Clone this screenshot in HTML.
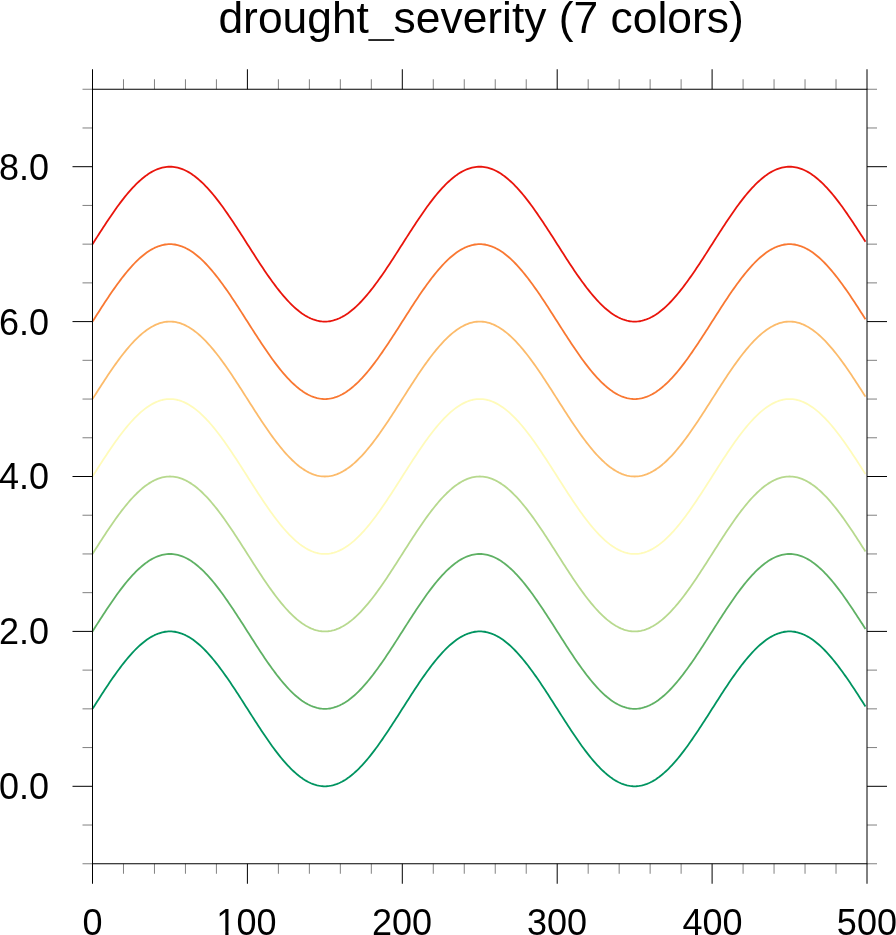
<!DOCTYPE html>
<html lang="en">
<head>
<meta charset="utf-8">
<title>drought_severity (7 colors)</title>
<style>
html,body{margin:0;padding:0;background:#fff;}
body{width:896px;height:935px;overflow:hidden;}
svg{display:block;will-change:transform;}
text{font-family:"Liberation Sans",Arial,Helvetica,sans-serif;fill:#000;}
</style>
</head>
<body>
<svg width="896" height="935" viewBox="0 0 896 935">
<rect x="0" y="0" width="896" height="935" fill="#ffffff"/>
<text x="481.1" y="32.8" font-size="44.38" text-anchor="middle">drought_severity (7 colors)</text>
<g fill="none" stroke-width="1.8" stroke-linejoin="round" stroke-linecap="butt">
<polyline stroke="#009460" points="92.50,708.85 94.05,706.42 95.60,703.99 97.15,701.56 98.70,699.14 100.25,696.73 101.79,694.34 103.34,691.95 104.89,689.59 106.44,687.24 107.99,684.92 109.54,682.61 111.09,680.34 112.64,678.09 114.19,675.87 115.73,673.69 117.28,671.54 118.83,669.42 120.38,667.35 121.93,665.32 123.48,663.33 125.03,661.38 126.58,659.48 128.13,657.63 129.68,655.83 131.22,654.08 132.77,652.39 134.32,650.75 135.87,649.17 137.42,647.65 138.97,646.19 140.52,644.79 142.07,643.46 143.62,642.19 145.17,640.98 146.72,639.84 148.26,638.77 149.81,637.77 151.36,636.84 152.91,635.98 154.46,635.19 156.01,634.48 157.56,633.83 159.11,633.27 160.66,632.77 162.20,632.35 163.75,632.01 165.30,631.74 166.85,631.55 168.40,631.44 169.95,631.40 171.50,631.44 173.05,631.55 174.60,631.74 176.15,632.01 177.69,632.35 179.24,632.77 180.79,633.27 182.34,633.83 183.89,634.48 185.44,635.19 186.99,635.98 188.54,636.84 190.09,637.77 191.64,638.77 193.19,639.84 194.73,640.98 196.28,642.19 197.83,643.46 199.38,644.79 200.93,646.19 202.48,647.65 204.03,649.17 205.58,650.75 207.13,652.39 208.68,654.08 210.22,655.83 211.77,657.63 213.32,659.48 214.87,661.38 216.42,663.33 217.97,665.32 219.52,667.35 221.07,669.42 222.62,671.54 224.17,673.69 225.71,675.87 227.26,678.09 228.81,680.34 230.36,682.61 231.91,684.92 233.46,687.24 235.01,689.59 236.56,691.95 238.11,694.34 239.66,696.73 241.20,699.14 242.75,701.56 244.30,703.99 245.85,706.42 247.40,708.85 248.95,711.28 250.50,713.71 252.05,716.14 253.60,718.56 255.14,720.97 256.69,723.36 258.24,725.75 259.79,728.11 261.34,730.46 262.89,732.78 264.44,735.09 265.99,737.36 267.54,739.61 269.09,741.83 270.63,744.01 272.18,746.16 273.73,748.28 275.28,750.35 276.83,752.38 278.38,754.37 279.93,756.32 281.48,758.22 283.03,760.07 284.58,761.87 286.12,763.62 287.67,765.31 289.22,766.95 290.77,768.53 292.32,770.05 293.87,771.51 295.42,772.91 296.97,774.24 298.52,775.51 300.07,776.72 301.62,777.86 303.16,778.93 304.71,779.93 306.26,780.86 307.81,781.72 309.36,782.51 310.91,783.22 312.46,783.87 314.01,784.43 315.56,784.93 317.11,785.35 318.65,785.69 320.20,785.96 321.75,786.15 323.30,786.26 324.85,786.30 326.40,786.26 327.95,786.15 329.50,785.96 331.05,785.69 332.60,785.35 334.14,784.93 335.69,784.43 337.24,783.87 338.79,783.22 340.34,782.51 341.89,781.72 343.44,780.86 344.99,779.93 346.54,778.93 348.09,777.86 349.63,776.72 351.18,775.51 352.73,774.24 354.28,772.91 355.83,771.51 357.38,770.05 358.93,768.53 360.48,766.95 362.03,765.31 363.57,763.62 365.12,761.87 366.67,760.07 368.22,758.22 369.77,756.32 371.32,754.37 372.87,752.38 374.42,750.35 375.97,748.28 377.52,746.16 379.06,744.01 380.61,741.83 382.16,739.61 383.71,737.36 385.26,735.09 386.81,732.78 388.36,730.46 389.91,728.11 391.46,725.75 393.01,723.36 394.56,720.97 396.10,718.56 397.65,716.14 399.20,713.71 400.75,711.28 402.30,708.85 403.85,706.42 405.40,703.99 406.95,701.56 408.50,699.14 410.04,696.73 411.59,694.34 413.14,691.95 414.69,689.59 416.24,687.24 417.79,684.92 419.34,682.61 420.89,680.34 422.44,678.09 423.99,675.87 425.53,673.69 427.08,671.54 428.63,669.42 430.18,667.35 431.73,665.32 433.28,663.33 434.83,661.38 436.38,659.48 437.93,657.63 439.48,655.83 441.03,654.08 442.57,652.39 444.12,650.75 445.67,649.17 447.22,647.65 448.77,646.19 450.32,644.79 451.87,643.46 453.42,642.19 454.97,640.98 456.51,639.84 458.06,638.77 459.61,637.77 461.16,636.84 462.71,635.98 464.26,635.19 465.81,634.48 467.36,633.83 468.91,633.27 470.46,632.77 472.00,632.35 473.55,632.01 475.10,631.74 476.65,631.55 478.20,631.44 479.75,631.40 481.30,631.44 482.85,631.55 484.40,631.74 485.95,632.01 487.50,632.35 489.04,632.77 490.59,633.27 492.14,633.83 493.69,634.48 495.24,635.19 496.79,635.98 498.34,636.84 499.89,637.77 501.44,638.77 502.99,639.84 504.53,640.98 506.08,642.19 507.63,643.46 509.18,644.79 510.73,646.19 512.28,647.65 513.83,649.17 515.38,650.75 516.93,652.39 518.48,654.08 520.02,655.83 521.57,657.63 523.12,659.48 524.67,661.38 526.22,663.33 527.77,665.32 529.32,667.35 530.87,669.42 532.42,671.54 533.96,673.69 535.51,675.87 537.06,678.09 538.61,680.34 540.16,682.61 541.71,684.92 543.26,687.24 544.81,689.59 546.36,691.95 547.91,694.34 549.45,696.73 551.00,699.14 552.55,701.56 554.10,703.99 555.65,706.42 557.20,708.85 558.75,711.28 560.30,713.71 561.85,716.14 563.40,718.56 564.94,720.97 566.49,723.36 568.04,725.75 569.59,728.11 571.14,730.46 572.69,732.78 574.24,735.09 575.79,737.36 577.34,739.61 578.89,741.83 580.43,744.01 581.98,746.16 583.53,748.28 585.08,750.35 586.63,752.38 588.18,754.37 589.73,756.32 591.28,758.22 592.83,760.07 594.38,761.87 595.92,763.62 597.47,765.31 599.02,766.95 600.57,768.53 602.12,770.05 603.67,771.51 605.22,772.91 606.77,774.24 608.32,775.51 609.87,776.72 611.42,777.86 612.96,778.93 614.51,779.93 616.06,780.86 617.61,781.72 619.16,782.51 620.71,783.22 622.26,783.87 623.81,784.43 625.36,784.93 626.90,785.35 628.45,785.69 630.00,785.96 631.55,786.15 633.10,786.26 634.65,786.30 636.20,786.26 637.75,786.15 639.30,785.96 640.85,785.69 642.39,785.35 643.94,784.93 645.49,784.43 647.04,783.87 648.59,783.22 650.14,782.51 651.69,781.72 653.24,780.86 654.79,779.93 656.34,778.93 657.88,777.86 659.43,776.72 660.98,775.51 662.53,774.24 664.08,772.91 665.63,771.51 667.18,770.05 668.73,768.53 670.28,766.95 671.83,765.31 673.38,763.62 674.92,761.87 676.47,760.07 678.02,758.22 679.57,756.32 681.12,754.37 682.67,752.38 684.22,750.35 685.77,748.28 687.32,746.16 688.87,744.01 690.41,741.83 691.96,739.61 693.51,737.36 695.06,735.09 696.61,732.78 698.16,730.46 699.71,728.11 701.26,725.75 702.81,723.36 704.36,720.97 705.90,718.56 707.45,716.14 709.00,713.71 710.55,711.28 712.10,708.85 713.65,706.42 715.20,703.99 716.75,701.56 718.30,699.14 719.85,696.73 721.39,694.34 722.94,691.95 724.49,689.59 726.04,687.24 727.59,684.92 729.14,682.61 730.69,680.34 732.24,678.09 733.79,675.87 735.33,673.69 736.88,671.54 738.43,669.42 739.98,667.35 741.53,665.32 743.08,663.33 744.63,661.38 746.18,659.48 747.73,657.63 749.28,655.83 750.82,654.08 752.37,652.39 753.92,650.75 755.47,649.17 757.02,647.65 758.57,646.19 760.12,644.79 761.67,643.46 763.22,642.19 764.77,640.98 766.31,639.84 767.86,638.77 769.41,637.77 770.96,636.84 772.51,635.98 774.06,635.19 775.61,634.48 777.16,633.83 778.71,633.27 780.26,632.77 781.81,632.35 783.35,632.01 784.90,631.74 786.45,631.55 788.00,631.44 789.55,631.40 791.10,631.44 792.65,631.55 794.20,631.74 795.75,632.01 797.30,632.35 798.84,632.77 800.39,633.27 801.94,633.83 803.49,634.48 805.04,635.19 806.59,635.98 808.14,636.84 809.69,637.77 811.24,638.77 812.79,639.84 814.33,640.98 815.88,642.19 817.43,643.46 818.98,644.79 820.53,646.19 822.08,647.65 823.63,649.17 825.18,650.75 826.73,652.39 828.27,654.08 829.82,655.83 831.37,657.63 832.92,659.48 834.47,661.38 836.02,663.33 837.57,665.32 839.12,667.35 840.67,669.42 842.22,671.54 843.76,673.69 845.31,675.87 846.86,678.09 848.41,680.34 849.96,682.61 851.51,684.92 853.06,687.24 854.61,689.59 856.16,691.95 857.71,694.34 859.25,696.73 860.80,699.14 862.35,701.56 863.90,703.99 865.45,706.42"/>
<polyline stroke="#5fb164" points="92.50,631.40 94.05,628.97 95.60,626.54 97.15,624.11 98.70,621.69 100.25,619.28 101.79,616.89 103.34,614.50 104.89,612.14 106.44,609.79 107.99,607.47 109.54,605.16 111.09,602.89 112.64,600.64 114.19,598.42 115.73,596.24 117.28,594.09 118.83,591.97 120.38,589.90 121.93,587.87 123.48,585.88 125.03,583.93 126.58,582.03 128.13,580.18 129.68,578.38 131.22,576.63 132.77,574.94 134.32,573.30 135.87,571.72 137.42,570.20 138.97,568.74 140.52,567.34 142.07,566.01 143.62,564.74 145.17,563.53 146.72,562.39 148.26,561.32 149.81,560.32 151.36,559.39 152.91,558.53 154.46,557.74 156.01,557.03 157.56,556.38 159.11,555.82 160.66,555.32 162.20,554.90 163.75,554.56 165.30,554.29 166.85,554.10 168.40,553.99 169.95,553.95 171.50,553.99 173.05,554.10 174.60,554.29 176.15,554.56 177.69,554.90 179.24,555.32 180.79,555.82 182.34,556.38 183.89,557.03 185.44,557.74 186.99,558.53 188.54,559.39 190.09,560.32 191.64,561.32 193.19,562.39 194.73,563.53 196.28,564.74 197.83,566.01 199.38,567.34 200.93,568.74 202.48,570.20 204.03,571.72 205.58,573.30 207.13,574.94 208.68,576.63 210.22,578.38 211.77,580.18 213.32,582.03 214.87,583.93 216.42,585.88 217.97,587.87 219.52,589.90 221.07,591.97 222.62,594.09 224.17,596.24 225.71,598.42 227.26,600.64 228.81,602.89 230.36,605.16 231.91,607.47 233.46,609.79 235.01,612.14 236.56,614.50 238.11,616.89 239.66,619.28 241.20,621.69 242.75,624.11 244.30,626.54 245.85,628.97 247.40,631.40 248.95,633.83 250.50,636.26 252.05,638.69 253.60,641.11 255.14,643.52 256.69,645.91 258.24,648.30 259.79,650.66 261.34,653.01 262.89,655.33 264.44,657.64 265.99,659.91 267.54,662.16 269.09,664.38 270.63,666.56 272.18,668.71 273.73,670.83 275.28,672.90 276.83,674.93 278.38,676.92 279.93,678.87 281.48,680.77 283.03,682.62 284.58,684.42 286.12,686.17 287.67,687.86 289.22,689.50 290.77,691.08 292.32,692.60 293.87,694.06 295.42,695.46 296.97,696.79 298.52,698.06 300.07,699.27 301.62,700.41 303.16,701.48 304.71,702.48 306.26,703.41 307.81,704.27 309.36,705.06 310.91,705.77 312.46,706.42 314.01,706.98 315.56,707.48 317.11,707.90 318.65,708.24 320.20,708.51 321.75,708.70 323.30,708.81 324.85,708.85 326.40,708.81 327.95,708.70 329.50,708.51 331.05,708.24 332.60,707.90 334.14,707.48 335.69,706.98 337.24,706.42 338.79,705.77 340.34,705.06 341.89,704.27 343.44,703.41 344.99,702.48 346.54,701.48 348.09,700.41 349.63,699.27 351.18,698.06 352.73,696.79 354.28,695.46 355.83,694.06 357.38,692.60 358.93,691.08 360.48,689.50 362.03,687.86 363.57,686.17 365.12,684.42 366.67,682.62 368.22,680.77 369.77,678.87 371.32,676.92 372.87,674.93 374.42,672.90 375.97,670.83 377.52,668.71 379.06,666.56 380.61,664.38 382.16,662.16 383.71,659.91 385.26,657.64 386.81,655.33 388.36,653.01 389.91,650.66 391.46,648.30 393.01,645.91 394.56,643.52 396.10,641.11 397.65,638.69 399.20,636.26 400.75,633.83 402.30,631.40 403.85,628.97 405.40,626.54 406.95,624.11 408.50,621.69 410.04,619.28 411.59,616.89 413.14,614.50 414.69,612.14 416.24,609.79 417.79,607.47 419.34,605.16 420.89,602.89 422.44,600.64 423.99,598.42 425.53,596.24 427.08,594.09 428.63,591.97 430.18,589.90 431.73,587.87 433.28,585.88 434.83,583.93 436.38,582.03 437.93,580.18 439.48,578.38 441.03,576.63 442.57,574.94 444.12,573.30 445.67,571.72 447.22,570.20 448.77,568.74 450.32,567.34 451.87,566.01 453.42,564.74 454.97,563.53 456.51,562.39 458.06,561.32 459.61,560.32 461.16,559.39 462.71,558.53 464.26,557.74 465.81,557.03 467.36,556.38 468.91,555.82 470.46,555.32 472.00,554.90 473.55,554.56 475.10,554.29 476.65,554.10 478.20,553.99 479.75,553.95 481.30,553.99 482.85,554.10 484.40,554.29 485.95,554.56 487.50,554.90 489.04,555.32 490.59,555.82 492.14,556.38 493.69,557.03 495.24,557.74 496.79,558.53 498.34,559.39 499.89,560.32 501.44,561.32 502.99,562.39 504.53,563.53 506.08,564.74 507.63,566.01 509.18,567.34 510.73,568.74 512.28,570.20 513.83,571.72 515.38,573.30 516.93,574.94 518.48,576.63 520.02,578.38 521.57,580.18 523.12,582.03 524.67,583.93 526.22,585.88 527.77,587.87 529.32,589.90 530.87,591.97 532.42,594.09 533.96,596.24 535.51,598.42 537.06,600.64 538.61,602.89 540.16,605.16 541.71,607.47 543.26,609.79 544.81,612.14 546.36,614.50 547.91,616.89 549.45,619.28 551.00,621.69 552.55,624.11 554.10,626.54 555.65,628.97 557.20,631.40 558.75,633.83 560.30,636.26 561.85,638.69 563.40,641.11 564.94,643.52 566.49,645.91 568.04,648.30 569.59,650.66 571.14,653.01 572.69,655.33 574.24,657.64 575.79,659.91 577.34,662.16 578.89,664.38 580.43,666.56 581.98,668.71 583.53,670.83 585.08,672.90 586.63,674.93 588.18,676.92 589.73,678.87 591.28,680.77 592.83,682.62 594.38,684.42 595.92,686.17 597.47,687.86 599.02,689.50 600.57,691.08 602.12,692.60 603.67,694.06 605.22,695.46 606.77,696.79 608.32,698.06 609.87,699.27 611.42,700.41 612.96,701.48 614.51,702.48 616.06,703.41 617.61,704.27 619.16,705.06 620.71,705.77 622.26,706.42 623.81,706.98 625.36,707.48 626.90,707.90 628.45,708.24 630.00,708.51 631.55,708.70 633.10,708.81 634.65,708.85 636.20,708.81 637.75,708.70 639.30,708.51 640.85,708.24 642.39,707.90 643.94,707.48 645.49,706.98 647.04,706.42 648.59,705.77 650.14,705.06 651.69,704.27 653.24,703.41 654.79,702.48 656.34,701.48 657.88,700.41 659.43,699.27 660.98,698.06 662.53,696.79 664.08,695.46 665.63,694.06 667.18,692.60 668.73,691.08 670.28,689.50 671.83,687.86 673.38,686.17 674.92,684.42 676.47,682.62 678.02,680.77 679.57,678.87 681.12,676.92 682.67,674.93 684.22,672.90 685.77,670.83 687.32,668.71 688.87,666.56 690.41,664.38 691.96,662.16 693.51,659.91 695.06,657.64 696.61,655.33 698.16,653.01 699.71,650.66 701.26,648.30 702.81,645.91 704.36,643.52 705.90,641.11 707.45,638.69 709.00,636.26 710.55,633.83 712.10,631.40 713.65,628.97 715.20,626.54 716.75,624.11 718.30,621.69 719.85,619.28 721.39,616.89 722.94,614.50 724.49,612.14 726.04,609.79 727.59,607.47 729.14,605.16 730.69,602.89 732.24,600.64 733.79,598.42 735.33,596.24 736.88,594.09 738.43,591.97 739.98,589.90 741.53,587.87 743.08,585.88 744.63,583.93 746.18,582.03 747.73,580.18 749.28,578.38 750.82,576.63 752.37,574.94 753.92,573.30 755.47,571.72 757.02,570.20 758.57,568.74 760.12,567.34 761.67,566.01 763.22,564.74 764.77,563.53 766.31,562.39 767.86,561.32 769.41,560.32 770.96,559.39 772.51,558.53 774.06,557.74 775.61,557.03 777.16,556.38 778.71,555.82 780.26,555.32 781.81,554.90 783.35,554.56 784.90,554.29 786.45,554.10 788.00,553.99 789.55,553.95 791.10,553.99 792.65,554.10 794.20,554.29 795.75,554.56 797.30,554.90 798.84,555.32 800.39,555.82 801.94,556.38 803.49,557.03 805.04,557.74 806.59,558.53 808.14,559.39 809.69,560.32 811.24,561.32 812.79,562.39 814.33,563.53 815.88,564.74 817.43,566.01 818.98,567.34 820.53,568.74 822.08,570.20 823.63,571.72 825.18,573.30 826.73,574.94 828.27,576.63 829.82,578.38 831.37,580.18 832.92,582.03 834.47,583.93 836.02,585.88 837.57,587.87 839.12,589.90 840.67,591.97 842.22,594.09 843.76,596.24 845.31,598.42 846.86,600.64 848.41,602.89 849.96,605.16 851.51,607.47 853.06,609.79 854.61,612.14 856.16,614.50 857.71,616.89 859.25,619.28 860.80,621.69 862.35,624.11 863.90,626.54 865.45,628.97"/>
<polyline stroke="#b7d98e" points="92.50,553.95 94.05,551.52 95.60,549.09 97.15,546.66 98.70,544.24 100.25,541.83 101.79,539.44 103.34,537.05 104.89,534.69 106.44,532.34 107.99,530.02 109.54,527.71 111.09,525.44 112.64,523.19 114.19,520.97 115.73,518.79 117.28,516.64 118.83,514.52 120.38,512.45 121.93,510.42 123.48,508.43 125.03,506.48 126.58,504.58 128.13,502.73 129.68,500.93 131.22,499.18 132.77,497.49 134.32,495.85 135.87,494.27 137.42,492.75 138.97,491.29 140.52,489.89 142.07,488.56 143.62,487.29 145.17,486.08 146.72,484.94 148.26,483.87 149.81,482.87 151.36,481.94 152.91,481.08 154.46,480.29 156.01,479.58 157.56,478.93 159.11,478.37 160.66,477.87 162.20,477.45 163.75,477.11 165.30,476.84 166.85,476.65 168.40,476.54 169.95,476.50 171.50,476.54 173.05,476.65 174.60,476.84 176.15,477.11 177.69,477.45 179.24,477.87 180.79,478.37 182.34,478.93 183.89,479.58 185.44,480.29 186.99,481.08 188.54,481.94 190.09,482.87 191.64,483.87 193.19,484.94 194.73,486.08 196.28,487.29 197.83,488.56 199.38,489.89 200.93,491.29 202.48,492.75 204.03,494.27 205.58,495.85 207.13,497.49 208.68,499.18 210.22,500.93 211.77,502.73 213.32,504.58 214.87,506.48 216.42,508.43 217.97,510.42 219.52,512.45 221.07,514.52 222.62,516.64 224.17,518.79 225.71,520.97 227.26,523.19 228.81,525.44 230.36,527.71 231.91,530.02 233.46,532.34 235.01,534.69 236.56,537.05 238.11,539.44 239.66,541.83 241.20,544.24 242.75,546.66 244.30,549.09 245.85,551.52 247.40,553.95 248.95,556.38 250.50,558.81 252.05,561.24 253.60,563.66 255.14,566.07 256.69,568.46 258.24,570.85 259.79,573.21 261.34,575.56 262.89,577.88 264.44,580.19 265.99,582.46 267.54,584.71 269.09,586.93 270.63,589.11 272.18,591.26 273.73,593.38 275.28,595.45 276.83,597.48 278.38,599.47 279.93,601.42 281.48,603.32 283.03,605.17 284.58,606.97 286.12,608.72 287.67,610.41 289.22,612.05 290.77,613.63 292.32,615.15 293.87,616.61 295.42,618.01 296.97,619.34 298.52,620.61 300.07,621.82 301.62,622.96 303.16,624.03 304.71,625.03 306.26,625.96 307.81,626.82 309.36,627.61 310.91,628.32 312.46,628.97 314.01,629.53 315.56,630.03 317.11,630.45 318.65,630.79 320.20,631.06 321.75,631.25 323.30,631.36 324.85,631.40 326.40,631.36 327.95,631.25 329.50,631.06 331.05,630.79 332.60,630.45 334.14,630.03 335.69,629.53 337.24,628.97 338.79,628.32 340.34,627.61 341.89,626.82 343.44,625.96 344.99,625.03 346.54,624.03 348.09,622.96 349.63,621.82 351.18,620.61 352.73,619.34 354.28,618.01 355.83,616.61 357.38,615.15 358.93,613.63 360.48,612.05 362.03,610.41 363.57,608.72 365.12,606.97 366.67,605.17 368.22,603.32 369.77,601.42 371.32,599.47 372.87,597.48 374.42,595.45 375.97,593.38 377.52,591.26 379.06,589.11 380.61,586.93 382.16,584.71 383.71,582.46 385.26,580.19 386.81,577.88 388.36,575.56 389.91,573.21 391.46,570.85 393.01,568.46 394.56,566.07 396.10,563.66 397.65,561.24 399.20,558.81 400.75,556.38 402.30,553.95 403.85,551.52 405.40,549.09 406.95,546.66 408.50,544.24 410.04,541.83 411.59,539.44 413.14,537.05 414.69,534.69 416.24,532.34 417.79,530.02 419.34,527.71 420.89,525.44 422.44,523.19 423.99,520.97 425.53,518.79 427.08,516.64 428.63,514.52 430.18,512.45 431.73,510.42 433.28,508.43 434.83,506.48 436.38,504.58 437.93,502.73 439.48,500.93 441.03,499.18 442.57,497.49 444.12,495.85 445.67,494.27 447.22,492.75 448.77,491.29 450.32,489.89 451.87,488.56 453.42,487.29 454.97,486.08 456.51,484.94 458.06,483.87 459.61,482.87 461.16,481.94 462.71,481.08 464.26,480.29 465.81,479.58 467.36,478.93 468.91,478.37 470.46,477.87 472.00,477.45 473.55,477.11 475.10,476.84 476.65,476.65 478.20,476.54 479.75,476.50 481.30,476.54 482.85,476.65 484.40,476.84 485.95,477.11 487.50,477.45 489.04,477.87 490.59,478.37 492.14,478.93 493.69,479.58 495.24,480.29 496.79,481.08 498.34,481.94 499.89,482.87 501.44,483.87 502.99,484.94 504.53,486.08 506.08,487.29 507.63,488.56 509.18,489.89 510.73,491.29 512.28,492.75 513.83,494.27 515.38,495.85 516.93,497.49 518.48,499.18 520.02,500.93 521.57,502.73 523.12,504.58 524.67,506.48 526.22,508.43 527.77,510.42 529.32,512.45 530.87,514.52 532.42,516.64 533.96,518.79 535.51,520.97 537.06,523.19 538.61,525.44 540.16,527.71 541.71,530.02 543.26,532.34 544.81,534.69 546.36,537.05 547.91,539.44 549.45,541.83 551.00,544.24 552.55,546.66 554.10,549.09 555.65,551.52 557.20,553.95 558.75,556.38 560.30,558.81 561.85,561.24 563.40,563.66 564.94,566.07 566.49,568.46 568.04,570.85 569.59,573.21 571.14,575.56 572.69,577.88 574.24,580.19 575.79,582.46 577.34,584.71 578.89,586.93 580.43,589.11 581.98,591.26 583.53,593.38 585.08,595.45 586.63,597.48 588.18,599.47 589.73,601.42 591.28,603.32 592.83,605.17 594.38,606.97 595.92,608.72 597.47,610.41 599.02,612.05 600.57,613.63 602.12,615.15 603.67,616.61 605.22,618.01 606.77,619.34 608.32,620.61 609.87,621.82 611.42,622.96 612.96,624.03 614.51,625.03 616.06,625.96 617.61,626.82 619.16,627.61 620.71,628.32 622.26,628.97 623.81,629.53 625.36,630.03 626.90,630.45 628.45,630.79 630.00,631.06 631.55,631.25 633.10,631.36 634.65,631.40 636.20,631.36 637.75,631.25 639.30,631.06 640.85,630.79 642.39,630.45 643.94,630.03 645.49,629.53 647.04,628.97 648.59,628.32 650.14,627.61 651.69,626.82 653.24,625.96 654.79,625.03 656.34,624.03 657.88,622.96 659.43,621.82 660.98,620.61 662.53,619.34 664.08,618.01 665.63,616.61 667.18,615.15 668.73,613.63 670.28,612.05 671.83,610.41 673.38,608.72 674.92,606.97 676.47,605.17 678.02,603.32 679.57,601.42 681.12,599.47 682.67,597.48 684.22,595.45 685.77,593.38 687.32,591.26 688.87,589.11 690.41,586.93 691.96,584.71 693.51,582.46 695.06,580.19 696.61,577.88 698.16,575.56 699.71,573.21 701.26,570.85 702.81,568.46 704.36,566.07 705.90,563.66 707.45,561.24 709.00,558.81 710.55,556.38 712.10,553.95 713.65,551.52 715.20,549.09 716.75,546.66 718.30,544.24 719.85,541.83 721.39,539.44 722.94,537.05 724.49,534.69 726.04,532.34 727.59,530.02 729.14,527.71 730.69,525.44 732.24,523.19 733.79,520.97 735.33,518.79 736.88,516.64 738.43,514.52 739.98,512.45 741.53,510.42 743.08,508.43 744.63,506.48 746.18,504.58 747.73,502.73 749.28,500.93 750.82,499.18 752.37,497.49 753.92,495.85 755.47,494.27 757.02,492.75 758.57,491.29 760.12,489.89 761.67,488.56 763.22,487.29 764.77,486.08 766.31,484.94 767.86,483.87 769.41,482.87 770.96,481.94 772.51,481.08 774.06,480.29 775.61,479.58 777.16,478.93 778.71,478.37 780.26,477.87 781.81,477.45 783.35,477.11 784.90,476.84 786.45,476.65 788.00,476.54 789.55,476.50 791.10,476.54 792.65,476.65 794.20,476.84 795.75,477.11 797.30,477.45 798.84,477.87 800.39,478.37 801.94,478.93 803.49,479.58 805.04,480.29 806.59,481.08 808.14,481.94 809.69,482.87 811.24,483.87 812.79,484.94 814.33,486.08 815.88,487.29 817.43,488.56 818.98,489.89 820.53,491.29 822.08,492.75 823.63,494.27 825.18,495.85 826.73,497.49 828.27,499.18 829.82,500.93 831.37,502.73 832.92,504.58 834.47,506.48 836.02,508.43 837.57,510.42 839.12,512.45 840.67,514.52 842.22,516.64 843.76,518.79 845.31,520.97 846.86,523.19 848.41,525.44 849.96,527.71 851.51,530.02 853.06,532.34 854.61,534.69 856.16,537.05 857.71,539.44 859.25,541.83 860.80,544.24 862.35,546.66 863.90,549.09 865.45,551.52"/>
<polyline stroke="#fffbba" points="92.50,476.50 94.05,474.07 95.60,471.64 97.15,469.21 98.70,466.79 100.25,464.38 101.79,461.99 103.34,459.60 104.89,457.24 106.44,454.89 107.99,452.57 109.54,450.26 111.09,447.99 112.64,445.74 114.19,443.52 115.73,441.34 117.28,439.19 118.83,437.07 120.38,435.00 121.93,432.97 123.48,430.98 125.03,429.03 126.58,427.13 128.13,425.28 129.68,423.48 131.22,421.73 132.77,420.04 134.32,418.40 135.87,416.82 137.42,415.30 138.97,413.84 140.52,412.44 142.07,411.11 143.62,409.84 145.17,408.63 146.72,407.49 148.26,406.42 149.81,405.42 151.36,404.49 152.91,403.63 154.46,402.84 156.01,402.13 157.56,401.48 159.11,400.92 160.66,400.42 162.20,400.00 163.75,399.66 165.30,399.39 166.85,399.20 168.40,399.09 169.95,399.05 171.50,399.09 173.05,399.20 174.60,399.39 176.15,399.66 177.69,400.00 179.24,400.42 180.79,400.92 182.34,401.48 183.89,402.13 185.44,402.84 186.99,403.63 188.54,404.49 190.09,405.42 191.64,406.42 193.19,407.49 194.73,408.63 196.28,409.84 197.83,411.11 199.38,412.44 200.93,413.84 202.48,415.30 204.03,416.82 205.58,418.40 207.13,420.04 208.68,421.73 210.22,423.48 211.77,425.28 213.32,427.13 214.87,429.03 216.42,430.98 217.97,432.97 219.52,435.00 221.07,437.07 222.62,439.19 224.17,441.34 225.71,443.52 227.26,445.74 228.81,447.99 230.36,450.26 231.91,452.57 233.46,454.89 235.01,457.24 236.56,459.60 238.11,461.99 239.66,464.38 241.20,466.79 242.75,469.21 244.30,471.64 245.85,474.07 247.40,476.50 248.95,478.93 250.50,481.36 252.05,483.79 253.60,486.21 255.14,488.62 256.69,491.01 258.24,493.40 259.79,495.76 261.34,498.11 262.89,500.43 264.44,502.74 265.99,505.01 267.54,507.26 269.09,509.48 270.63,511.66 272.18,513.81 273.73,515.93 275.28,518.00 276.83,520.03 278.38,522.02 279.93,523.97 281.48,525.87 283.03,527.72 284.58,529.52 286.12,531.27 287.67,532.96 289.22,534.60 290.77,536.18 292.32,537.70 293.87,539.16 295.42,540.56 296.97,541.89 298.52,543.16 300.07,544.37 301.62,545.51 303.16,546.58 304.71,547.58 306.26,548.51 307.81,549.37 309.36,550.16 310.91,550.87 312.46,551.52 314.01,552.08 315.56,552.58 317.11,553.00 318.65,553.34 320.20,553.61 321.75,553.80 323.30,553.91 324.85,553.95 326.40,553.91 327.95,553.80 329.50,553.61 331.05,553.34 332.60,553.00 334.14,552.58 335.69,552.08 337.24,551.52 338.79,550.87 340.34,550.16 341.89,549.37 343.44,548.51 344.99,547.58 346.54,546.58 348.09,545.51 349.63,544.37 351.18,543.16 352.73,541.89 354.28,540.56 355.83,539.16 357.38,537.70 358.93,536.18 360.48,534.60 362.03,532.96 363.57,531.27 365.12,529.52 366.67,527.72 368.22,525.87 369.77,523.97 371.32,522.02 372.87,520.03 374.42,518.00 375.97,515.93 377.52,513.81 379.06,511.66 380.61,509.48 382.16,507.26 383.71,505.01 385.26,502.74 386.81,500.43 388.36,498.11 389.91,495.76 391.46,493.40 393.01,491.01 394.56,488.62 396.10,486.21 397.65,483.79 399.20,481.36 400.75,478.93 402.30,476.50 403.85,474.07 405.40,471.64 406.95,469.21 408.50,466.79 410.04,464.38 411.59,461.99 413.14,459.60 414.69,457.24 416.24,454.89 417.79,452.57 419.34,450.26 420.89,447.99 422.44,445.74 423.99,443.52 425.53,441.34 427.08,439.19 428.63,437.07 430.18,435.00 431.73,432.97 433.28,430.98 434.83,429.03 436.38,427.13 437.93,425.28 439.48,423.48 441.03,421.73 442.57,420.04 444.12,418.40 445.67,416.82 447.22,415.30 448.77,413.84 450.32,412.44 451.87,411.11 453.42,409.84 454.97,408.63 456.51,407.49 458.06,406.42 459.61,405.42 461.16,404.49 462.71,403.63 464.26,402.84 465.81,402.13 467.36,401.48 468.91,400.92 470.46,400.42 472.00,400.00 473.55,399.66 475.10,399.39 476.65,399.20 478.20,399.09 479.75,399.05 481.30,399.09 482.85,399.20 484.40,399.39 485.95,399.66 487.50,400.00 489.04,400.42 490.59,400.92 492.14,401.48 493.69,402.13 495.24,402.84 496.79,403.63 498.34,404.49 499.89,405.42 501.44,406.42 502.99,407.49 504.53,408.63 506.08,409.84 507.63,411.11 509.18,412.44 510.73,413.84 512.28,415.30 513.83,416.82 515.38,418.40 516.93,420.04 518.48,421.73 520.02,423.48 521.57,425.28 523.12,427.13 524.67,429.03 526.22,430.98 527.77,432.97 529.32,435.00 530.87,437.07 532.42,439.19 533.96,441.34 535.51,443.52 537.06,445.74 538.61,447.99 540.16,450.26 541.71,452.57 543.26,454.89 544.81,457.24 546.36,459.60 547.91,461.99 549.45,464.38 551.00,466.79 552.55,469.21 554.10,471.64 555.65,474.07 557.20,476.50 558.75,478.93 560.30,481.36 561.85,483.79 563.40,486.21 564.94,488.62 566.49,491.01 568.04,493.40 569.59,495.76 571.14,498.11 572.69,500.43 574.24,502.74 575.79,505.01 577.34,507.26 578.89,509.48 580.43,511.66 581.98,513.81 583.53,515.93 585.08,518.00 586.63,520.03 588.18,522.02 589.73,523.97 591.28,525.87 592.83,527.72 594.38,529.52 595.92,531.27 597.47,532.96 599.02,534.60 600.57,536.18 602.12,537.70 603.67,539.16 605.22,540.56 606.77,541.89 608.32,543.16 609.87,544.37 611.42,545.51 612.96,546.58 614.51,547.58 616.06,548.51 617.61,549.37 619.16,550.16 620.71,550.87 622.26,551.52 623.81,552.08 625.36,552.58 626.90,553.00 628.45,553.34 630.00,553.61 631.55,553.80 633.10,553.91 634.65,553.95 636.20,553.91 637.75,553.80 639.30,553.61 640.85,553.34 642.39,553.00 643.94,552.58 645.49,552.08 647.04,551.52 648.59,550.87 650.14,550.16 651.69,549.37 653.24,548.51 654.79,547.58 656.34,546.58 657.88,545.51 659.43,544.37 660.98,543.16 662.53,541.89 664.08,540.56 665.63,539.16 667.18,537.70 668.73,536.18 670.28,534.60 671.83,532.96 673.38,531.27 674.92,529.52 676.47,527.72 678.02,525.87 679.57,523.97 681.12,522.02 682.67,520.03 684.22,518.00 685.77,515.93 687.32,513.81 688.87,511.66 690.41,509.48 691.96,507.26 693.51,505.01 695.06,502.74 696.61,500.43 698.16,498.11 699.71,495.76 701.26,493.40 702.81,491.01 704.36,488.62 705.90,486.21 707.45,483.79 709.00,481.36 710.55,478.93 712.10,476.50 713.65,474.07 715.20,471.64 716.75,469.21 718.30,466.79 719.85,464.38 721.39,461.99 722.94,459.60 724.49,457.24 726.04,454.89 727.59,452.57 729.14,450.26 730.69,447.99 732.24,445.74 733.79,443.52 735.33,441.34 736.88,439.19 738.43,437.07 739.98,435.00 741.53,432.97 743.08,430.98 744.63,429.03 746.18,427.13 747.73,425.28 749.28,423.48 750.82,421.73 752.37,420.04 753.92,418.40 755.47,416.82 757.02,415.30 758.57,413.84 760.12,412.44 761.67,411.11 763.22,409.84 764.77,408.63 766.31,407.49 767.86,406.42 769.41,405.42 770.96,404.49 772.51,403.63 774.06,402.84 775.61,402.13 777.16,401.48 778.71,400.92 780.26,400.42 781.81,400.00 783.35,399.66 784.90,399.39 786.45,399.20 788.00,399.09 789.55,399.05 791.10,399.09 792.65,399.20 794.20,399.39 795.75,399.66 797.30,400.00 798.84,400.42 800.39,400.92 801.94,401.48 803.49,402.13 805.04,402.84 806.59,403.63 808.14,404.49 809.69,405.42 811.24,406.42 812.79,407.49 814.33,408.63 815.88,409.84 817.43,411.11 818.98,412.44 820.53,413.84 822.08,415.30 823.63,416.82 825.18,418.40 826.73,420.04 828.27,421.73 829.82,423.48 831.37,425.28 832.92,427.13 834.47,429.03 836.02,430.98 837.57,432.97 839.12,435.00 840.67,437.07 842.22,439.19 843.76,441.34 845.31,443.52 846.86,445.74 848.41,447.99 849.96,450.26 851.51,452.57 853.06,454.89 854.61,457.24 856.16,459.60 857.71,461.99 859.25,464.38 860.80,466.79 862.35,469.21 863.90,471.64 865.45,474.07"/>
<polyline stroke="#fcbb6b" points="92.50,399.05 94.05,396.62 95.60,394.19 97.15,391.76 98.70,389.34 100.25,386.93 101.79,384.54 103.34,382.15 104.89,379.79 106.44,377.44 107.99,375.12 109.54,372.81 111.09,370.54 112.64,368.29 114.19,366.07 115.73,363.89 117.28,361.74 118.83,359.62 120.38,357.55 121.93,355.52 123.48,353.53 125.03,351.58 126.58,349.68 128.13,347.83 129.68,346.03 131.22,344.28 132.77,342.59 134.32,340.95 135.87,339.37 137.42,337.85 138.97,336.39 140.52,334.99 142.07,333.66 143.62,332.39 145.17,331.18 146.72,330.04 148.26,328.97 149.81,327.97 151.36,327.04 152.91,326.18 154.46,325.39 156.01,324.68 157.56,324.03 159.11,323.47 160.66,322.97 162.20,322.55 163.75,322.21 165.30,321.94 166.85,321.75 168.40,321.64 169.95,321.60 171.50,321.64 173.05,321.75 174.60,321.94 176.15,322.21 177.69,322.55 179.24,322.97 180.79,323.47 182.34,324.03 183.89,324.68 185.44,325.39 186.99,326.18 188.54,327.04 190.09,327.97 191.64,328.97 193.19,330.04 194.73,331.18 196.28,332.39 197.83,333.66 199.38,334.99 200.93,336.39 202.48,337.85 204.03,339.37 205.58,340.95 207.13,342.59 208.68,344.28 210.22,346.03 211.77,347.83 213.32,349.68 214.87,351.58 216.42,353.53 217.97,355.52 219.52,357.55 221.07,359.62 222.62,361.74 224.17,363.89 225.71,366.07 227.26,368.29 228.81,370.54 230.36,372.81 231.91,375.12 233.46,377.44 235.01,379.79 236.56,382.15 238.11,384.54 239.66,386.93 241.20,389.34 242.75,391.76 244.30,394.19 245.85,396.62 247.40,399.05 248.95,401.48 250.50,403.91 252.05,406.34 253.60,408.76 255.14,411.17 256.69,413.56 258.24,415.95 259.79,418.31 261.34,420.66 262.89,422.98 264.44,425.29 265.99,427.56 267.54,429.81 269.09,432.03 270.63,434.21 272.18,436.36 273.73,438.48 275.28,440.55 276.83,442.58 278.38,444.57 279.93,446.52 281.48,448.42 283.03,450.27 284.58,452.07 286.12,453.82 287.67,455.51 289.22,457.15 290.77,458.73 292.32,460.25 293.87,461.71 295.42,463.11 296.97,464.44 298.52,465.71 300.07,466.92 301.62,468.06 303.16,469.13 304.71,470.13 306.26,471.06 307.81,471.92 309.36,472.71 310.91,473.42 312.46,474.07 314.01,474.63 315.56,475.13 317.11,475.55 318.65,475.89 320.20,476.16 321.75,476.35 323.30,476.46 324.85,476.50 326.40,476.46 327.95,476.35 329.50,476.16 331.05,475.89 332.60,475.55 334.14,475.13 335.69,474.63 337.24,474.07 338.79,473.42 340.34,472.71 341.89,471.92 343.44,471.06 344.99,470.13 346.54,469.13 348.09,468.06 349.63,466.92 351.18,465.71 352.73,464.44 354.28,463.11 355.83,461.71 357.38,460.25 358.93,458.73 360.48,457.15 362.03,455.51 363.57,453.82 365.12,452.07 366.67,450.27 368.22,448.42 369.77,446.52 371.32,444.57 372.87,442.58 374.42,440.55 375.97,438.48 377.52,436.36 379.06,434.21 380.61,432.03 382.16,429.81 383.71,427.56 385.26,425.29 386.81,422.98 388.36,420.66 389.91,418.31 391.46,415.95 393.01,413.56 394.56,411.17 396.10,408.76 397.65,406.34 399.20,403.91 400.75,401.48 402.30,399.05 403.85,396.62 405.40,394.19 406.95,391.76 408.50,389.34 410.04,386.93 411.59,384.54 413.14,382.15 414.69,379.79 416.24,377.44 417.79,375.12 419.34,372.81 420.89,370.54 422.44,368.29 423.99,366.07 425.53,363.89 427.08,361.74 428.63,359.62 430.18,357.55 431.73,355.52 433.28,353.53 434.83,351.58 436.38,349.68 437.93,347.83 439.48,346.03 441.03,344.28 442.57,342.59 444.12,340.95 445.67,339.37 447.22,337.85 448.77,336.39 450.32,334.99 451.87,333.66 453.42,332.39 454.97,331.18 456.51,330.04 458.06,328.97 459.61,327.97 461.16,327.04 462.71,326.18 464.26,325.39 465.81,324.68 467.36,324.03 468.91,323.47 470.46,322.97 472.00,322.55 473.55,322.21 475.10,321.94 476.65,321.75 478.20,321.64 479.75,321.60 481.30,321.64 482.85,321.75 484.40,321.94 485.95,322.21 487.50,322.55 489.04,322.97 490.59,323.47 492.14,324.03 493.69,324.68 495.24,325.39 496.79,326.18 498.34,327.04 499.89,327.97 501.44,328.97 502.99,330.04 504.53,331.18 506.08,332.39 507.63,333.66 509.18,334.99 510.73,336.39 512.28,337.85 513.83,339.37 515.38,340.95 516.93,342.59 518.48,344.28 520.02,346.03 521.57,347.83 523.12,349.68 524.67,351.58 526.22,353.53 527.77,355.52 529.32,357.55 530.87,359.62 532.42,361.74 533.96,363.89 535.51,366.07 537.06,368.29 538.61,370.54 540.16,372.81 541.71,375.12 543.26,377.44 544.81,379.79 546.36,382.15 547.91,384.54 549.45,386.93 551.00,389.34 552.55,391.76 554.10,394.19 555.65,396.62 557.20,399.05 558.75,401.48 560.30,403.91 561.85,406.34 563.40,408.76 564.94,411.17 566.49,413.56 568.04,415.95 569.59,418.31 571.14,420.66 572.69,422.98 574.24,425.29 575.79,427.56 577.34,429.81 578.89,432.03 580.43,434.21 581.98,436.36 583.53,438.48 585.08,440.55 586.63,442.58 588.18,444.57 589.73,446.52 591.28,448.42 592.83,450.27 594.38,452.07 595.92,453.82 597.47,455.51 599.02,457.15 600.57,458.73 602.12,460.25 603.67,461.71 605.22,463.11 606.77,464.44 608.32,465.71 609.87,466.92 611.42,468.06 612.96,469.13 614.51,470.13 616.06,471.06 617.61,471.92 619.16,472.71 620.71,473.42 622.26,474.07 623.81,474.63 625.36,475.13 626.90,475.55 628.45,475.89 630.00,476.16 631.55,476.35 633.10,476.46 634.65,476.50 636.20,476.46 637.75,476.35 639.30,476.16 640.85,475.89 642.39,475.55 643.94,475.13 645.49,474.63 647.04,474.07 648.59,473.42 650.14,472.71 651.69,471.92 653.24,471.06 654.79,470.13 656.34,469.13 657.88,468.06 659.43,466.92 660.98,465.71 662.53,464.44 664.08,463.11 665.63,461.71 667.18,460.25 668.73,458.73 670.28,457.15 671.83,455.51 673.38,453.82 674.92,452.07 676.47,450.27 678.02,448.42 679.57,446.52 681.12,444.57 682.67,442.58 684.22,440.55 685.77,438.48 687.32,436.36 688.87,434.21 690.41,432.03 691.96,429.81 693.51,427.56 695.06,425.29 696.61,422.98 698.16,420.66 699.71,418.31 701.26,415.95 702.81,413.56 704.36,411.17 705.90,408.76 707.45,406.34 709.00,403.91 710.55,401.48 712.10,399.05 713.65,396.62 715.20,394.19 716.75,391.76 718.30,389.34 719.85,386.93 721.39,384.54 722.94,382.15 724.49,379.79 726.04,377.44 727.59,375.12 729.14,372.81 730.69,370.54 732.24,368.29 733.79,366.07 735.33,363.89 736.88,361.74 738.43,359.62 739.98,357.55 741.53,355.52 743.08,353.53 744.63,351.58 746.18,349.68 747.73,347.83 749.28,346.03 750.82,344.28 752.37,342.59 753.92,340.95 755.47,339.37 757.02,337.85 758.57,336.39 760.12,334.99 761.67,333.66 763.22,332.39 764.77,331.18 766.31,330.04 767.86,328.97 769.41,327.97 770.96,327.04 772.51,326.18 774.06,325.39 775.61,324.68 777.16,324.03 778.71,323.47 780.26,322.97 781.81,322.55 783.35,322.21 784.90,321.94 786.45,321.75 788.00,321.64 789.55,321.60 791.10,321.64 792.65,321.75 794.20,321.94 795.75,322.21 797.30,322.55 798.84,322.97 800.39,323.47 801.94,324.03 803.49,324.68 805.04,325.39 806.59,326.18 808.14,327.04 809.69,327.97 811.24,328.97 812.79,330.04 814.33,331.18 815.88,332.39 817.43,333.66 818.98,334.99 820.53,336.39 822.08,337.85 823.63,339.37 825.18,340.95 826.73,342.59 828.27,344.28 829.82,346.03 831.37,347.83 832.92,349.68 834.47,351.58 836.02,353.53 837.57,355.52 839.12,357.55 840.67,359.62 842.22,361.74 843.76,363.89 845.31,366.07 846.86,368.29 848.41,370.54 849.96,372.81 851.51,375.12 853.06,377.44 854.61,379.79 856.16,382.15 857.71,384.54 859.25,386.93 860.80,389.34 862.35,391.76 863.90,394.19 865.45,396.62"/>
<polyline stroke="#f97832" points="92.50,321.60 94.05,319.17 95.60,316.74 97.15,314.31 98.70,311.89 100.25,309.48 101.79,307.09 103.34,304.70 104.89,302.34 106.44,299.99 107.99,297.67 109.54,295.36 111.09,293.09 112.64,290.84 114.19,288.62 115.73,286.44 117.28,284.29 118.83,282.17 120.38,280.10 121.93,278.07 123.48,276.08 125.03,274.13 126.58,272.23 128.13,270.38 129.68,268.58 131.22,266.83 132.77,265.14 134.32,263.50 135.87,261.92 137.42,260.40 138.97,258.94 140.52,257.54 142.07,256.21 143.62,254.94 145.17,253.73 146.72,252.59 148.26,251.52 149.81,250.52 151.36,249.59 152.91,248.73 154.46,247.94 156.01,247.23 157.56,246.58 159.11,246.02 160.66,245.52 162.20,245.10 163.75,244.76 165.30,244.49 166.85,244.30 168.40,244.19 169.95,244.15 171.50,244.19 173.05,244.30 174.60,244.49 176.15,244.76 177.69,245.10 179.24,245.52 180.79,246.02 182.34,246.58 183.89,247.23 185.44,247.94 186.99,248.73 188.54,249.59 190.09,250.52 191.64,251.52 193.19,252.59 194.73,253.73 196.28,254.94 197.83,256.21 199.38,257.54 200.93,258.94 202.48,260.40 204.03,261.92 205.58,263.50 207.13,265.14 208.68,266.83 210.22,268.58 211.77,270.38 213.32,272.23 214.87,274.13 216.42,276.08 217.97,278.07 219.52,280.10 221.07,282.17 222.62,284.29 224.17,286.44 225.71,288.62 227.26,290.84 228.81,293.09 230.36,295.36 231.91,297.67 233.46,299.99 235.01,302.34 236.56,304.70 238.11,307.09 239.66,309.48 241.20,311.89 242.75,314.31 244.30,316.74 245.85,319.17 247.40,321.60 248.95,324.03 250.50,326.46 252.05,328.89 253.60,331.31 255.14,333.72 256.69,336.11 258.24,338.50 259.79,340.86 261.34,343.21 262.89,345.53 264.44,347.84 265.99,350.11 267.54,352.36 269.09,354.58 270.63,356.76 272.18,358.91 273.73,361.03 275.28,363.10 276.83,365.13 278.38,367.12 279.93,369.07 281.48,370.97 283.03,372.82 284.58,374.62 286.12,376.37 287.67,378.06 289.22,379.70 290.77,381.28 292.32,382.80 293.87,384.26 295.42,385.66 296.97,386.99 298.52,388.26 300.07,389.47 301.62,390.61 303.16,391.68 304.71,392.68 306.26,393.61 307.81,394.47 309.36,395.26 310.91,395.97 312.46,396.62 314.01,397.18 315.56,397.68 317.11,398.10 318.65,398.44 320.20,398.71 321.75,398.90 323.30,399.01 324.85,399.05 326.40,399.01 327.95,398.90 329.50,398.71 331.05,398.44 332.60,398.10 334.14,397.68 335.69,397.18 337.24,396.62 338.79,395.97 340.34,395.26 341.89,394.47 343.44,393.61 344.99,392.68 346.54,391.68 348.09,390.61 349.63,389.47 351.18,388.26 352.73,386.99 354.28,385.66 355.83,384.26 357.38,382.80 358.93,381.28 360.48,379.70 362.03,378.06 363.57,376.37 365.12,374.62 366.67,372.82 368.22,370.97 369.77,369.07 371.32,367.12 372.87,365.13 374.42,363.10 375.97,361.03 377.52,358.91 379.06,356.76 380.61,354.58 382.16,352.36 383.71,350.11 385.26,347.84 386.81,345.53 388.36,343.21 389.91,340.86 391.46,338.50 393.01,336.11 394.56,333.72 396.10,331.31 397.65,328.89 399.20,326.46 400.75,324.03 402.30,321.60 403.85,319.17 405.40,316.74 406.95,314.31 408.50,311.89 410.04,309.48 411.59,307.09 413.14,304.70 414.69,302.34 416.24,299.99 417.79,297.67 419.34,295.36 420.89,293.09 422.44,290.84 423.99,288.62 425.53,286.44 427.08,284.29 428.63,282.17 430.18,280.10 431.73,278.07 433.28,276.08 434.83,274.13 436.38,272.23 437.93,270.38 439.48,268.58 441.03,266.83 442.57,265.14 444.12,263.50 445.67,261.92 447.22,260.40 448.77,258.94 450.32,257.54 451.87,256.21 453.42,254.94 454.97,253.73 456.51,252.59 458.06,251.52 459.61,250.52 461.16,249.59 462.71,248.73 464.26,247.94 465.81,247.23 467.36,246.58 468.91,246.02 470.46,245.52 472.00,245.10 473.55,244.76 475.10,244.49 476.65,244.30 478.20,244.19 479.75,244.15 481.30,244.19 482.85,244.30 484.40,244.49 485.95,244.76 487.50,245.10 489.04,245.52 490.59,246.02 492.14,246.58 493.69,247.23 495.24,247.94 496.79,248.73 498.34,249.59 499.89,250.52 501.44,251.52 502.99,252.59 504.53,253.73 506.08,254.94 507.63,256.21 509.18,257.54 510.73,258.94 512.28,260.40 513.83,261.92 515.38,263.50 516.93,265.14 518.48,266.83 520.02,268.58 521.57,270.38 523.12,272.23 524.67,274.13 526.22,276.08 527.77,278.07 529.32,280.10 530.87,282.17 532.42,284.29 533.96,286.44 535.51,288.62 537.06,290.84 538.61,293.09 540.16,295.36 541.71,297.67 543.26,299.99 544.81,302.34 546.36,304.70 547.91,307.09 549.45,309.48 551.00,311.89 552.55,314.31 554.10,316.74 555.65,319.17 557.20,321.60 558.75,324.03 560.30,326.46 561.85,328.89 563.40,331.31 564.94,333.72 566.49,336.11 568.04,338.50 569.59,340.86 571.14,343.21 572.69,345.53 574.24,347.84 575.79,350.11 577.34,352.36 578.89,354.58 580.43,356.76 581.98,358.91 583.53,361.03 585.08,363.10 586.63,365.13 588.18,367.12 589.73,369.07 591.28,370.97 592.83,372.82 594.38,374.62 595.92,376.37 597.47,378.06 599.02,379.70 600.57,381.28 602.12,382.80 603.67,384.26 605.22,385.66 606.77,386.99 608.32,388.26 609.87,389.47 611.42,390.61 612.96,391.68 614.51,392.68 616.06,393.61 617.61,394.47 619.16,395.26 620.71,395.97 622.26,396.62 623.81,397.18 625.36,397.68 626.90,398.10 628.45,398.44 630.00,398.71 631.55,398.90 633.10,399.01 634.65,399.05 636.20,399.01 637.75,398.90 639.30,398.71 640.85,398.44 642.39,398.10 643.94,397.68 645.49,397.18 647.04,396.62 648.59,395.97 650.14,395.26 651.69,394.47 653.24,393.61 654.79,392.68 656.34,391.68 657.88,390.61 659.43,389.47 660.98,388.26 662.53,386.99 664.08,385.66 665.63,384.26 667.18,382.80 668.73,381.28 670.28,379.70 671.83,378.06 673.38,376.37 674.92,374.62 676.47,372.82 678.02,370.97 679.57,369.07 681.12,367.12 682.67,365.13 684.22,363.10 685.77,361.03 687.32,358.91 688.87,356.76 690.41,354.58 691.96,352.36 693.51,350.11 695.06,347.84 696.61,345.53 698.16,343.21 699.71,340.86 701.26,338.50 702.81,336.11 704.36,333.72 705.90,331.31 707.45,328.89 709.00,326.46 710.55,324.03 712.10,321.60 713.65,319.17 715.20,316.74 716.75,314.31 718.30,311.89 719.85,309.48 721.39,307.09 722.94,304.70 724.49,302.34 726.04,299.99 727.59,297.67 729.14,295.36 730.69,293.09 732.24,290.84 733.79,288.62 735.33,286.44 736.88,284.29 738.43,282.17 739.98,280.10 741.53,278.07 743.08,276.08 744.63,274.13 746.18,272.23 747.73,270.38 749.28,268.58 750.82,266.83 752.37,265.14 753.92,263.50 755.47,261.92 757.02,260.40 758.57,258.94 760.12,257.54 761.67,256.21 763.22,254.94 764.77,253.73 766.31,252.59 767.86,251.52 769.41,250.52 770.96,249.59 772.51,248.73 774.06,247.94 775.61,247.23 777.16,246.58 778.71,246.02 780.26,245.52 781.81,245.10 783.35,244.76 784.90,244.49 786.45,244.30 788.00,244.19 789.55,244.15 791.10,244.19 792.65,244.30 794.20,244.49 795.75,244.76 797.30,245.10 798.84,245.52 800.39,246.02 801.94,246.58 803.49,247.23 805.04,247.94 806.59,248.73 808.14,249.59 809.69,250.52 811.24,251.52 812.79,252.59 814.33,253.73 815.88,254.94 817.43,256.21 818.98,257.54 820.53,258.94 822.08,260.40 823.63,261.92 825.18,263.50 826.73,265.14 828.27,266.83 829.82,268.58 831.37,270.38 832.92,272.23 834.47,274.13 836.02,276.08 837.57,278.07 839.12,280.10 840.67,282.17 842.22,284.29 843.76,286.44 845.31,288.62 846.86,290.84 848.41,293.09 849.96,295.36 851.51,297.67 853.06,299.99 854.61,302.34 856.16,304.70 857.71,307.09 859.25,309.48 860.80,311.89 862.35,314.31 863.90,316.74 865.45,319.17"/>
<polyline stroke="#e9150c" points="92.50,244.15 94.05,241.72 95.60,239.29 97.15,236.86 98.70,234.44 100.25,232.03 101.79,229.64 103.34,227.25 104.89,224.89 106.44,222.54 107.99,220.22 109.54,217.91 111.09,215.64 112.64,213.39 114.19,211.17 115.73,208.99 117.28,206.84 118.83,204.72 120.38,202.65 121.93,200.62 123.48,198.63 125.03,196.68 126.58,194.78 128.13,192.93 129.68,191.13 131.22,189.38 132.77,187.69 134.32,186.05 135.87,184.47 137.42,182.95 138.97,181.49 140.52,180.09 142.07,178.76 143.62,177.49 145.17,176.28 146.72,175.14 148.26,174.07 149.81,173.07 151.36,172.14 152.91,171.28 154.46,170.49 156.01,169.78 157.56,169.13 159.11,168.57 160.66,168.07 162.20,167.65 163.75,167.31 165.30,167.04 166.85,166.85 168.40,166.74 169.95,166.70 171.50,166.74 173.05,166.85 174.60,167.04 176.15,167.31 177.69,167.65 179.24,168.07 180.79,168.57 182.34,169.13 183.89,169.78 185.44,170.49 186.99,171.28 188.54,172.14 190.09,173.07 191.64,174.07 193.19,175.14 194.73,176.28 196.28,177.49 197.83,178.76 199.38,180.09 200.93,181.49 202.48,182.95 204.03,184.47 205.58,186.05 207.13,187.69 208.68,189.38 210.22,191.13 211.77,192.93 213.32,194.78 214.87,196.68 216.42,198.63 217.97,200.62 219.52,202.65 221.07,204.72 222.62,206.84 224.17,208.99 225.71,211.17 227.26,213.39 228.81,215.64 230.36,217.91 231.91,220.22 233.46,222.54 235.01,224.89 236.56,227.25 238.11,229.64 239.66,232.03 241.20,234.44 242.75,236.86 244.30,239.29 245.85,241.72 247.40,244.15 248.95,246.58 250.50,249.01 252.05,251.44 253.60,253.86 255.14,256.27 256.69,258.66 258.24,261.05 259.79,263.41 261.34,265.76 262.89,268.08 264.44,270.39 265.99,272.66 267.54,274.91 269.09,277.13 270.63,279.31 272.18,281.46 273.73,283.58 275.28,285.65 276.83,287.68 278.38,289.67 279.93,291.62 281.48,293.52 283.03,295.37 284.58,297.17 286.12,298.92 287.67,300.61 289.22,302.25 290.77,303.83 292.32,305.35 293.87,306.81 295.42,308.21 296.97,309.54 298.52,310.81 300.07,312.02 301.62,313.16 303.16,314.23 304.71,315.23 306.26,316.16 307.81,317.02 309.36,317.81 310.91,318.52 312.46,319.17 314.01,319.73 315.56,320.23 317.11,320.65 318.65,320.99 320.20,321.26 321.75,321.45 323.30,321.56 324.85,321.60 326.40,321.56 327.95,321.45 329.50,321.26 331.05,320.99 332.60,320.65 334.14,320.23 335.69,319.73 337.24,319.17 338.79,318.52 340.34,317.81 341.89,317.02 343.44,316.16 344.99,315.23 346.54,314.23 348.09,313.16 349.63,312.02 351.18,310.81 352.73,309.54 354.28,308.21 355.83,306.81 357.38,305.35 358.93,303.83 360.48,302.25 362.03,300.61 363.57,298.92 365.12,297.17 366.67,295.37 368.22,293.52 369.77,291.62 371.32,289.67 372.87,287.68 374.42,285.65 375.97,283.58 377.52,281.46 379.06,279.31 380.61,277.13 382.16,274.91 383.71,272.66 385.26,270.39 386.81,268.08 388.36,265.76 389.91,263.41 391.46,261.05 393.01,258.66 394.56,256.27 396.10,253.86 397.65,251.44 399.20,249.01 400.75,246.58 402.30,244.15 403.85,241.72 405.40,239.29 406.95,236.86 408.50,234.44 410.04,232.03 411.59,229.64 413.14,227.25 414.69,224.89 416.24,222.54 417.79,220.22 419.34,217.91 420.89,215.64 422.44,213.39 423.99,211.17 425.53,208.99 427.08,206.84 428.63,204.72 430.18,202.65 431.73,200.62 433.28,198.63 434.83,196.68 436.38,194.78 437.93,192.93 439.48,191.13 441.03,189.38 442.57,187.69 444.12,186.05 445.67,184.47 447.22,182.95 448.77,181.49 450.32,180.09 451.87,178.76 453.42,177.49 454.97,176.28 456.51,175.14 458.06,174.07 459.61,173.07 461.16,172.14 462.71,171.28 464.26,170.49 465.81,169.78 467.36,169.13 468.91,168.57 470.46,168.07 472.00,167.65 473.55,167.31 475.10,167.04 476.65,166.85 478.20,166.74 479.75,166.70 481.30,166.74 482.85,166.85 484.40,167.04 485.95,167.31 487.50,167.65 489.04,168.07 490.59,168.57 492.14,169.13 493.69,169.78 495.24,170.49 496.79,171.28 498.34,172.14 499.89,173.07 501.44,174.07 502.99,175.14 504.53,176.28 506.08,177.49 507.63,178.76 509.18,180.09 510.73,181.49 512.28,182.95 513.83,184.47 515.38,186.05 516.93,187.69 518.48,189.38 520.02,191.13 521.57,192.93 523.12,194.78 524.67,196.68 526.22,198.63 527.77,200.62 529.32,202.65 530.87,204.72 532.42,206.84 533.96,208.99 535.51,211.17 537.06,213.39 538.61,215.64 540.16,217.91 541.71,220.22 543.26,222.54 544.81,224.89 546.36,227.25 547.91,229.64 549.45,232.03 551.00,234.44 552.55,236.86 554.10,239.29 555.65,241.72 557.20,244.15 558.75,246.58 560.30,249.01 561.85,251.44 563.40,253.86 564.94,256.27 566.49,258.66 568.04,261.05 569.59,263.41 571.14,265.76 572.69,268.08 574.24,270.39 575.79,272.66 577.34,274.91 578.89,277.13 580.43,279.31 581.98,281.46 583.53,283.58 585.08,285.65 586.63,287.68 588.18,289.67 589.73,291.62 591.28,293.52 592.83,295.37 594.38,297.17 595.92,298.92 597.47,300.61 599.02,302.25 600.57,303.83 602.12,305.35 603.67,306.81 605.22,308.21 606.77,309.54 608.32,310.81 609.87,312.02 611.42,313.16 612.96,314.23 614.51,315.23 616.06,316.16 617.61,317.02 619.16,317.81 620.71,318.52 622.26,319.17 623.81,319.73 625.36,320.23 626.90,320.65 628.45,320.99 630.00,321.26 631.55,321.45 633.10,321.56 634.65,321.60 636.20,321.56 637.75,321.45 639.30,321.26 640.85,320.99 642.39,320.65 643.94,320.23 645.49,319.73 647.04,319.17 648.59,318.52 650.14,317.81 651.69,317.02 653.24,316.16 654.79,315.23 656.34,314.23 657.88,313.16 659.43,312.02 660.98,310.81 662.53,309.54 664.08,308.21 665.63,306.81 667.18,305.35 668.73,303.83 670.28,302.25 671.83,300.61 673.38,298.92 674.92,297.17 676.47,295.37 678.02,293.52 679.57,291.62 681.12,289.67 682.67,287.68 684.22,285.65 685.77,283.58 687.32,281.46 688.87,279.31 690.41,277.13 691.96,274.91 693.51,272.66 695.06,270.39 696.61,268.08 698.16,265.76 699.71,263.41 701.26,261.05 702.81,258.66 704.36,256.27 705.90,253.86 707.45,251.44 709.00,249.01 710.55,246.58 712.10,244.15 713.65,241.72 715.20,239.29 716.75,236.86 718.30,234.44 719.85,232.03 721.39,229.64 722.94,227.25 724.49,224.89 726.04,222.54 727.59,220.22 729.14,217.91 730.69,215.64 732.24,213.39 733.79,211.17 735.33,208.99 736.88,206.84 738.43,204.72 739.98,202.65 741.53,200.62 743.08,198.63 744.63,196.68 746.18,194.78 747.73,192.93 749.28,191.13 750.82,189.38 752.37,187.69 753.92,186.05 755.47,184.47 757.02,182.95 758.57,181.49 760.12,180.09 761.67,178.76 763.22,177.49 764.77,176.28 766.31,175.14 767.86,174.07 769.41,173.07 770.96,172.14 772.51,171.28 774.06,170.49 775.61,169.78 777.16,169.13 778.71,168.57 780.26,168.07 781.81,167.65 783.35,167.31 784.90,167.04 786.45,166.85 788.00,166.74 789.55,166.70 791.10,166.74 792.65,166.85 794.20,167.04 795.75,167.31 797.30,167.65 798.84,168.07 800.39,168.57 801.94,169.13 803.49,169.78 805.04,170.49 806.59,171.28 808.14,172.14 809.69,173.07 811.24,174.07 812.79,175.14 814.33,176.28 815.88,177.49 817.43,178.76 818.98,180.09 820.53,181.49 822.08,182.95 823.63,184.47 825.18,186.05 826.73,187.69 828.27,189.38 829.82,191.13 831.37,192.93 832.92,194.78 834.47,196.68 836.02,198.63 837.57,200.62 839.12,202.65 840.67,204.72 842.22,206.84 843.76,208.99 845.31,211.17 846.86,213.39 848.41,215.64 849.96,217.91 851.51,220.22 853.06,222.54 854.61,224.89 856.16,227.25 857.71,229.64 859.25,232.03 860.80,234.44 862.35,236.86 863.90,239.29 865.45,241.72"/>
</g>
<g stroke="#000" stroke-width="0.5" fill="none">
<line stroke-width="1.0" x1="92.50" y1="863.75" x2="92.50" y2="883.75"/><line stroke-width="1.0" x1="92.50" y1="89.25" x2="92.50" y2="69.25"/>
<line x1="123.48" y1="863.75" x2="123.48" y2="873.75"/><line x1="123.48" y1="89.25" x2="123.48" y2="79.25"/>
<line x1="154.46" y1="863.75" x2="154.46" y2="873.75"/><line x1="154.46" y1="89.25" x2="154.46" y2="79.25"/>
<line x1="185.44" y1="863.75" x2="185.44" y2="873.75"/><line x1="185.44" y1="89.25" x2="185.44" y2="79.25"/>
<line x1="216.42" y1="863.75" x2="216.42" y2="873.75"/><line x1="216.42" y1="89.25" x2="216.42" y2="79.25"/>
<line stroke-width="1.0" x1="247.40" y1="863.75" x2="247.40" y2="883.75"/><line stroke-width="1.0" x1="247.40" y1="89.25" x2="247.40" y2="69.25"/>
<line x1="278.38" y1="863.75" x2="278.38" y2="873.75"/><line x1="278.38" y1="89.25" x2="278.38" y2="79.25"/>
<line x1="309.36" y1="863.75" x2="309.36" y2="873.75"/><line x1="309.36" y1="89.25" x2="309.36" y2="79.25"/>
<line x1="340.34" y1="863.75" x2="340.34" y2="873.75"/><line x1="340.34" y1="89.25" x2="340.34" y2="79.25"/>
<line x1="371.32" y1="863.75" x2="371.32" y2="873.75"/><line x1="371.32" y1="89.25" x2="371.32" y2="79.25"/>
<line stroke-width="1.0" x1="402.30" y1="863.75" x2="402.30" y2="883.75"/><line stroke-width="1.0" x1="402.30" y1="89.25" x2="402.30" y2="69.25"/>
<line x1="433.28" y1="863.75" x2="433.28" y2="873.75"/><line x1="433.28" y1="89.25" x2="433.28" y2="79.25"/>
<line x1="464.26" y1="863.75" x2="464.26" y2="873.75"/><line x1="464.26" y1="89.25" x2="464.26" y2="79.25"/>
<line x1="495.24" y1="863.75" x2="495.24" y2="873.75"/><line x1="495.24" y1="89.25" x2="495.24" y2="79.25"/>
<line x1="526.22" y1="863.75" x2="526.22" y2="873.75"/><line x1="526.22" y1="89.25" x2="526.22" y2="79.25"/>
<line stroke-width="1.0" x1="557.20" y1="863.75" x2="557.20" y2="883.75"/><line stroke-width="1.0" x1="557.20" y1="89.25" x2="557.20" y2="69.25"/>
<line x1="588.18" y1="863.75" x2="588.18" y2="873.75"/><line x1="588.18" y1="89.25" x2="588.18" y2="79.25"/>
<line x1="619.16" y1="863.75" x2="619.16" y2="873.75"/><line x1="619.16" y1="89.25" x2="619.16" y2="79.25"/>
<line x1="650.14" y1="863.75" x2="650.14" y2="873.75"/><line x1="650.14" y1="89.25" x2="650.14" y2="79.25"/>
<line x1="681.12" y1="863.75" x2="681.12" y2="873.75"/><line x1="681.12" y1="89.25" x2="681.12" y2="79.25"/>
<line stroke-width="1.0" x1="712.10" y1="863.75" x2="712.10" y2="883.75"/><line stroke-width="1.0" x1="712.10" y1="89.25" x2="712.10" y2="69.25"/>
<line x1="743.08" y1="863.75" x2="743.08" y2="873.75"/><line x1="743.08" y1="89.25" x2="743.08" y2="79.25"/>
<line x1="774.06" y1="863.75" x2="774.06" y2="873.75"/><line x1="774.06" y1="89.25" x2="774.06" y2="79.25"/>
<line x1="805.04" y1="863.75" x2="805.04" y2="873.75"/><line x1="805.04" y1="89.25" x2="805.04" y2="79.25"/>
<line x1="836.02" y1="863.75" x2="836.02" y2="873.75"/><line x1="836.02" y1="89.25" x2="836.02" y2="79.25"/>
<line stroke-width="1.0" x1="867.00" y1="863.75" x2="867.00" y2="883.75"/><line stroke-width="1.0" x1="867.00" y1="89.25" x2="867.00" y2="69.25"/>
<line x1="92.50" y1="863.75" x2="82.50" y2="863.75"/><line x1="867.00" y1="863.75" x2="877.00" y2="863.75"/>
<line x1="92.50" y1="825.02" x2="82.50" y2="825.02"/><line x1="867.00" y1="825.02" x2="877.00" y2="825.02"/>
<line stroke-width="1.0" x1="92.50" y1="786.30" x2="72.50" y2="786.30"/><line stroke-width="1.0" x1="867.00" y1="786.30" x2="887.00" y2="786.30"/>
<line x1="92.50" y1="747.57" x2="82.50" y2="747.57"/><line x1="867.00" y1="747.57" x2="877.00" y2="747.57"/>
<line x1="92.50" y1="708.85" x2="82.50" y2="708.85"/><line x1="867.00" y1="708.85" x2="877.00" y2="708.85"/>
<line x1="92.50" y1="670.12" x2="82.50" y2="670.12"/><line x1="867.00" y1="670.12" x2="877.00" y2="670.12"/>
<line stroke-width="1.0" x1="92.50" y1="631.40" x2="72.50" y2="631.40"/><line stroke-width="1.0" x1="867.00" y1="631.40" x2="887.00" y2="631.40"/>
<line x1="92.50" y1="592.67" x2="82.50" y2="592.67"/><line x1="867.00" y1="592.67" x2="877.00" y2="592.67"/>
<line x1="92.50" y1="553.95" x2="82.50" y2="553.95"/><line x1="867.00" y1="553.95" x2="877.00" y2="553.95"/>
<line x1="92.50" y1="515.23" x2="82.50" y2="515.23"/><line x1="867.00" y1="515.23" x2="877.00" y2="515.23"/>
<line stroke-width="1.0" x1="92.50" y1="476.50" x2="72.50" y2="476.50"/><line stroke-width="1.0" x1="867.00" y1="476.50" x2="887.00" y2="476.50"/>
<line x1="92.50" y1="437.78" x2="82.50" y2="437.78"/><line x1="867.00" y1="437.78" x2="877.00" y2="437.78"/>
<line x1="92.50" y1="399.05" x2="82.50" y2="399.05"/><line x1="867.00" y1="399.05" x2="877.00" y2="399.05"/>
<line x1="92.50" y1="360.32" x2="82.50" y2="360.32"/><line x1="867.00" y1="360.32" x2="877.00" y2="360.32"/>
<line stroke-width="1.0" x1="92.50" y1="321.60" x2="72.50" y2="321.60"/><line stroke-width="1.0" x1="867.00" y1="321.60" x2="887.00" y2="321.60"/>
<line x1="92.50" y1="282.88" x2="82.50" y2="282.88"/><line x1="867.00" y1="282.88" x2="877.00" y2="282.88"/>
<line x1="92.50" y1="244.15" x2="82.50" y2="244.15"/><line x1="867.00" y1="244.15" x2="877.00" y2="244.15"/>
<line x1="92.50" y1="205.43" x2="82.50" y2="205.43"/><line x1="867.00" y1="205.43" x2="877.00" y2="205.43"/>
<line stroke-width="1.0" x1="92.50" y1="166.70" x2="72.50" y2="166.70"/><line stroke-width="1.0" x1="867.00" y1="166.70" x2="887.00" y2="166.70"/>
<line x1="92.50" y1="127.97" x2="82.50" y2="127.97"/><line x1="867.00" y1="127.97" x2="877.00" y2="127.97"/>
<line x1="92.50" y1="89.25" x2="82.50" y2="89.25"/><line x1="867.00" y1="89.25" x2="877.00" y2="89.25"/>
</g>
<rect x="92.50" y="89.25" width="774.50" height="774.50" fill="none" stroke="#000" stroke-width="1.0"/>
<g font-size="36">
<text x="92.50" y="935.4" text-anchor="middle">0</text>
<text x="246.40" y="935.4" text-anchor="middle">100</text>
<text x="402.00" y="935.4" text-anchor="middle">200</text>
<text x="557.10" y="935.4" text-anchor="middle">300</text>
<text x="712.50" y="935.4" text-anchor="middle">400</text>
<text x="866.90" y="935.4" text-anchor="middle">500</text>
<text x="49.1" y="799.20" text-anchor="end">0.0</text>
<text x="49.1" y="644.30" text-anchor="end">2.0</text>
<text x="49.1" y="489.40" text-anchor="end">4.0</text>
<text x="49.1" y="334.50" text-anchor="end">6.0</text>
<text x="49.1" y="179.60" text-anchor="end">8.0</text>
</g>
<rect x="367" y="40.85" width="29" height="1.6" fill="#ffffff"/>
<rect x="217.90" y="931.6" width="7.4" height="3.4" fill="#ffffff"/><rect x="228.50" y="931.6" width="6.8" height="3.4" fill="#ffffff"/>
</svg>
</body>
</html>
